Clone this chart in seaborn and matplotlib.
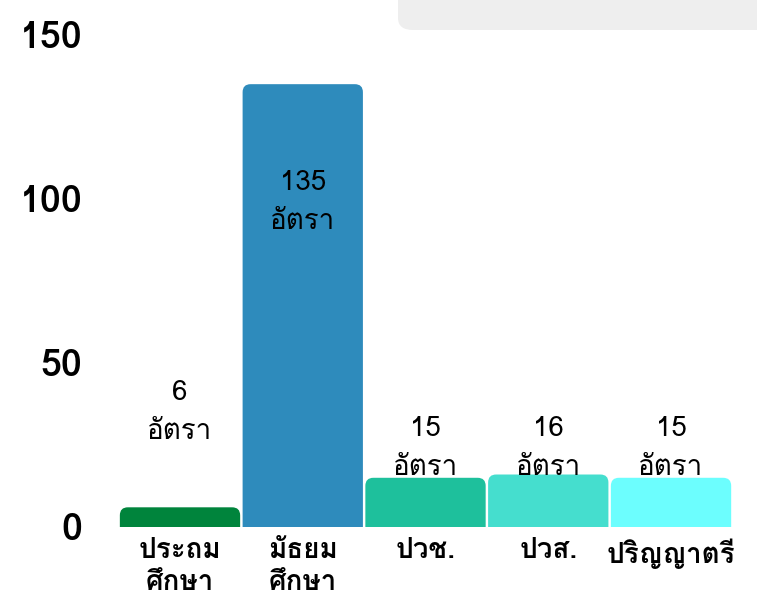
import matplotlib
matplotlib.use("Agg")
import matplotlib.pyplot as plt
from matplotlib import font_manager as fm
from matplotlib.ft2font import FT2Font
from matplotlib.patches import FancyBboxPatch
import pandas as pd
import seaborn as sns

categories = ["ประถม\nศึกษา", "มัธยม\nศึกษา", "ปวช.", "ปวส.", "ปริญญาตรี"]
values = [6, 135, 15, 16, 15]
unit = "อัตรา"
bar_colors = ["#00843c", "#2e8bbc", "#1ec09c", "#45dece", "#6cfefe"]
y_ticks = [0, 50, 100, 150]

# where the two-line value labels sit (data units, centre of the block)
label_y = [35, 99, 24, 24, 24]


def find_thai_font():
    found = []
    for f in fm.fontManager.ttflist:
        try:
            if ord("อ") in FT2Font(f.fname).get_charmap():
                found.append(f.name)
        except Exception:
            pass
    return found[0] if found else "DejaVu Sans"


def rounded_bars(ax, radius_px=8):
    bbox = ax.get_window_extent()
    x0, x1 = ax.get_xlim()
    y0, y1 = ax.get_ylim()
    px_x = bbox.width / (x1 - x0)
    px_y = bbox.height / (y1 - y0)
    rx = radius_px / px_x
    for p in list(ax.patches):
        x, w, h = p.get_x(), p.get_width(), p.get_height()
        color = p.get_facecolor()
        p.set_visible(False)
        ax.add_patch(FancyBboxPatch(
            (x, -10), w, h + 10,
            boxstyle=f"round,pad=0,rounding_size={rx}",
            mutation_aspect=px_x / px_y,
            facecolor=color, edgecolor="none", clip_on=True))


def main():
    sns.set_theme(style="white")
    thai = find_thai_font()
    plt.rcParams["font.family"] = [thai, "DejaVu Sans"]
    plt.rcParams["text.color"] = "black"
    plt.rcParams["xtick.color"] = "black"
    plt.rcParams["ytick.color"] = "black"

    df = pd.DataFrame({"level": categories, "count": values})

    fig = plt.figure(figsize=(7.57, 6.02), dpi=100)
    ax = fig.add_axes([0.1567, 0.1246, 0.8108, 0.8173])

    sns.barplot(data=df, x="level", y="count", hue="level", palette=bar_colors,
                width=0.98, legend=False, ax=ax, saturation=1)

    ax.set_xlim(-0.5, len(categories) - 0.5)
    ax.set_ylim(0, 150)
    ax.set_yticks(y_ticks)
    ax.set_yticklabels([str(t) for t in y_ticks], fontsize=27, fontweight="bold")
    ax.tick_params(axis="y", length=0, pad=26)
    ax.tick_params(axis="x", length=0, pad=8)
    ax.set_xticks(range(len(categories)))
    ax.set_xticklabels(categories, fontsize=20, fontweight="bold", linespacing=1.35)
    ax.set_xlabel("")
    ax.set_ylabel("")
    sns.despine(ax=ax, left=True, bottom=True)

    rounded_bars(ax)

    for i, v in enumerate(values):
        ax.text(i, label_y[i], f"{v}\n{unit}", ha="center", va="center",
                fontsize=20, linespacing=1.65, color="black")

    # light grey panel cut off at the top right corner
    fig.patches.append(FancyBboxPatch(
        (398 / 757, 572 / 602), 0.6, 0.2,
        boxstyle="round,pad=0,rounding_size=0.02",
        transform=fig.transFigure, facecolor="#eeeeee", edgecolor="none"))

    fig.savefig("out.png", dpi=100)
    plt.close(fig)


if __name__ == "__main__":
    main()
